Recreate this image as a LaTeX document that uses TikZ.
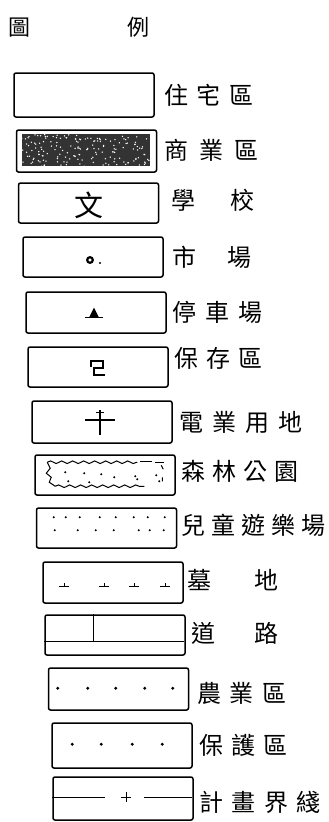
\documentclass[tikz,border=0pt]{standalone}
\usepackage{fontspec}
\newfontfamily\cjk{Noto Sans CJK TC}
\usetikzlibrary{decorations.pathmorphing}

\tikzset{
	legbox/.style={draw, line width=1.5pt, rounded corners=2pt, minimum width=140pt, inner sep=0pt},
	leglbl/.style={anchor=west, inner sep=0pt, font=\cjk\fontsize{24pt}{24pt}\selectfont},
	wavy/.style={decorate, decoration={snake, amplitude=1.3pt, segment length=11pt}}
}

\begin{document}
\begin{tikzpicture}[x=1pt, y=-1pt]
				\useasboundingbox (0,0) rectangle (329,822);
				
				% title
				\node[leglbl, font=\cjk\fontsize{22pt}{22pt}\selectfont] (title) at (8,27) {圖\hspace{97pt}例};
				
				% boxes and labels
				\foreach \n/\cx/\cy/\h/\lx/\ly/\t in
				{res/84/95/44/164/95/住\hspace{8.5pt}宅\hspace{8.5pt}區,
				 com/86.5/151/42/164/150/商\hspace{11pt}業\hspace{11pt}區,
				 sch/88.5/203/40/171/200/學\hspace{35pt}校,
				 mkt/93/257/40/172/257/市\hspace{31pt}場,
				 park/96/312.5/41/172/312/停\hspace{9pt}車\hspace{9pt}場,
				 pres/98/367/40/174/358/保\hspace{8pt}存\hspace{8pt}區,
				 util/102/422/42/179/422/電\hspace{9pt}業\hspace{9pt}用\hspace{9pt}地,
				 forest/105/475/40/181/471/森\hspace{7pt}林\hspace{7pt}公\hspace{7pt}園,
				 play/106.5/528/40/181/525/兒\hspace{6pt}童\hspace{6pt}遊\hspace{6pt}樂\hspace{6pt}場,
				 grave/113/582.5/41/187/580/墓\hspace{43pt}地,
				 road/115/635/40/191/633/道\hspace{39pt}路,
				 farm/118.5/689/42/197/693/農\hspace{8.5pt}業\hspace{8.5pt}區,
				 prot/122/745.5/45/199/745/保\hspace{8pt}護\hspace{8pt}區,
				 plan/123/798.5/43/199/802/計\hspace{8.5pt}畫\hspace{8.5pt}界\hspace{8.5pt}綫}{
					\node[legbox, minimum height=\h] (\n) at (\cx,\cy) {};
					\node[leglbl] (\n-lbl) at (\lx,\ly) {\t};
				}
				
				% commercial: dark speckled fill
				\begin{scope}[shift={(com.north west)}]
					\fill[black!80] (6,5) rectangle (134,37);
					\pgfmathsetseed{7}
					\foreach \k in {1,...,170}{
						\fill[white] ({6+128*rnd},{5+32*rnd}) circle (0.75);
					}
				\end{scope}
				
				% school
				\node[inner sep=0pt, font=\cjk\fontsize{29pt}{29pt}\selectfont] (wen) at ([yshift=-2pt]sch.center) {文};
				
				% market
				\draw[line width=2.2pt] (mkt.center) ++(-3,3) circle (2.8);
				\fill (mkt.center) ++(7,6) circle (1.1);
				
				% parking
				\fill (park.center) ++(-2,-5) -- ++(-5,10) -- ++(10,0) -- cycle;
				\draw[line width=1.5pt] (park.center) ++(-11,5) -- ++(18,0);
				
				% preservation
				\draw[line width=1.5pt] (pres.center) ++(-7,0) -- ++(0,-6) -- ++(12,0) -- ++(0,7)
					-- ++(-9,0) -- ++(0,7) -- ++(11,0);
				
				% utility
				\draw[line width=1.5pt] (util.center) ++(-17,-2) -- ++(30,0);
				\draw[line width=1.5pt] (util.center) ++(-2,-12) -- ++(0,25);
				\draw[line width=1pt] (util.center) ++(-6,-10) -- ++(8,0);
				
				% forest park
				\begin{scope}[shift={(forest.north west)}, line width=1pt]
					\draw[wavy] (13,8) -- (103,8);
					\draw (106,7) -- (118,7) (121,8) -- (130,8);
					\draw[wavy] (21,32) -- (110,32);
					\draw (13,8) -- (16,14) -- (12,19) -- (17,23) -- (15,28) -- (21,32);
					\draw (127,11) -- (129,15) (128,23) -- (128,27);
					\foreach \x/\y in
					{31/18, 50/19, 67/20, 80/23, 101/22, 122/21, 34/27, 55/28, 103/25, 125/27}{
						\fill (\x,\y) circle (1.1);
					}
				\end{scope}
				
				% playground
				\begin{scope}[shift={(play.north west)}]
					\foreach \x in {18,30,44,64,80,98,112,129}{
						\fill (\x,10) circle (1.1);
					}
					\foreach \x in {19,42,60,78,103,114,128}{
						\fill (\x,23) circle (1.1);
					}
				\end{scope}
				
				% grave
				\begin{scope}[shift={(grave.north west)}]
					\foreach \x in {22,62,92,123}{
						\draw[line width=1.5pt] (\x-5,25) -- (\x+5,25);
						\draw[line width=1pt] (\x,25) -- (\x,22);
					}
				\end{scope}
				
				% road
				\begin{scope}[shift={(road.north west)}]
					\draw[line width=1.5pt] (0,27) -- (140,27);
					\draw[line width=1.5pt] (49,0) -- (49,27);
				\end{scope}
				
				% farm
				\begin{scope}[shift={(farm.north west)}]
					\foreach \x in {10,40,68,97,125}{
						\fill (\x,21) circle (1.6);
					}
				\end{scope}
				
				% protection
				\begin{scope}[shift={(prot.north west)}]
					\foreach \x in {21,50,81,111}{
						\fill (\x,22) circle (1.6);
					}
				\end{scope}
				
				% planning boundary
				\begin{scope}[shift={(plan.north west)}]
					\draw[line width=1.5pt] (0,21) -- (53,21) (92,21) -- (140,21);
					\draw[line width=1.5pt] (69,21) -- (79,21) (74,16) -- (74,26);
				\end{scope}
\end{tikzpicture}
\end{document}
